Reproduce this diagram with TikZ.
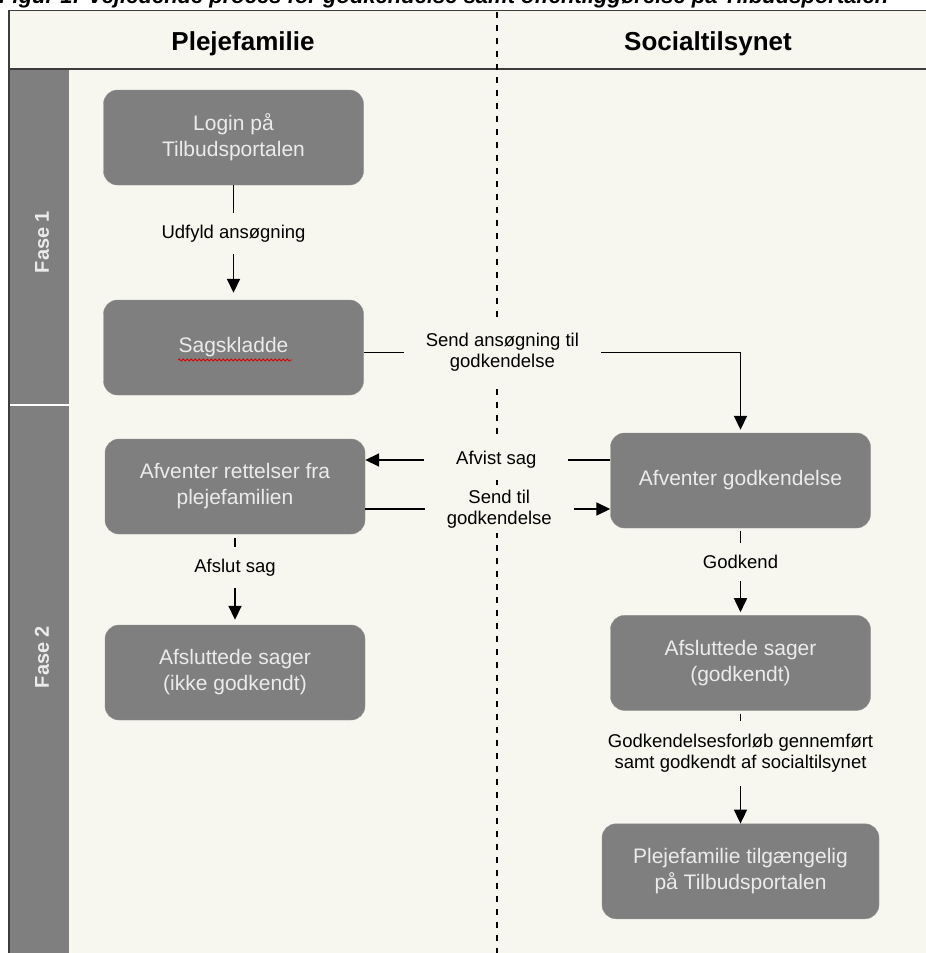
\documentclass[tikz,border=0pt]{standalone}
\usepackage{fontspec}
\setmainfont{Liberation Sans}
\usetikzlibrary{positioning,arrows.meta,decorations.pathmorphing}
\definecolor{paper}{HTML}{F7F7F0}
\definecolor{boxgray}{HTML}{7F7F7F}
\definecolor{boxtext}{HTML}{EBEBEB}
\definecolor{rim}{HTML}{3C3C3C}

\begin{document}
\begin{tikzpicture}[x=1pt,y=-1pt,
            box/.style={rectangle,rounded corners=14pt,fill=boxgray,draw=boxgray!85!white,text=boxtext,align=center,minimum width=260pt,minimum height=95pt,font=\fontsize{21}{26}\selectfont},
            lbl/.style={fill=paper,align=center,font=\fontsize{18.5}{21}\selectfont,inner xsep=22pt,inner ysep=12pt},
            arr/.style={draw=black,line width=1.7pt,-{Triangle[width=13pt,length=14pt]}},
            head/.style={font=\fontsize{26}{30}\selectfont\bfseries},
            fase/.style={rotate=90,text=boxtext,font=\fontsize{20}{24}\selectfont\bfseries}]

            \useasboundingbox (0,0) rectangle (926,953);
            \clip (0,0) rectangle (926,953);
            \fill[white] (0,0) rectangle (926,953);
            \node[anchor=base west,inner sep=0pt,font=\fontsize{22}{26}\selectfont\bfseries\itshape] (caption) at (-1,4) {Figur 1: Vejledende proces for godkendelse samt offentliggørelse på Tilbudsportalen};

            \fill[paper] (9,11) rectangle (926,953);
            \fill[boxgray] (10,69) rectangle (69,953);
            \draw[white,line width=1.2pt] (10,405) -- (69,405);
            \draw[rim,line width=1.6pt] (9,953) -- (9,10.5) -- (926,10.5);
            \draw[rim,line width=1.3pt] (9,69) -- (926,69);
            \draw[black,line width=1.4pt,dash pattern=on 6pt off 7pt] (497,12) -- (497,953);

            \node[head] (pleje) at (243,44) {Plejefamilie};
            \node[head] (social) at (708,44) {Socialtilsynet};
            \node[fase] (fase1) at (42,242) {Fase 1};
            \node[fase] (fase2) at (42,657) {Fase 2};

            \node[box] (login) at (233.5,137.5) {Login på\\Tilbudsportalen};
            \node[box] (kladde) at (233.5,347.5) {Sagskladde};
            \node[box] (rettelser) at (235,486.5) {Afventer rettelser fra\\plejefamilien};
            \node[box] (afvist) at (235,672.5) {Afsluttede sager\\(ikke godkendt)};
            \node[box] (afventer) at (740.5,480.5) {Afventer godkendelse};
            \node[box,below=87pt of afventer] (godkendt) {Afsluttede sager\\(godkendt)};
            \node[box,minimum width=277pt,below=113pt of godkendt] (tilg) {Plejefamilie tilgængelig\\på Tilbudsportalen};
            \draw[red!85!black,line width=0.8pt,decorate,decoration={snake,amplitude=1pt,segment length=4pt}] (178,360) -- (292,360);

            \draw[arr,shorten >=7pt] (login) -- node[lbl,pos=0.42] {Udfyld ansøgning} (kladde);
            \draw[arr,shorten <=4pt,shorten >=5pt] (rettelser) -- node[lbl,pos=0.37] {Afslut sag} (afvist);
            \draw[arr,shorten <=3pt,shorten >=3pt] (afventer) -- node[lbl,pos=0.39] {Godkend} (godkendt);
            \draw[arr,shorten <=3pt] (godkendt) -- node[lbl,pos=0.38,inner ysep=13pt] {Godkendelsesforløb gennemført\\samt godkendt af socialtilsynet} (tilg);
            \draw[arr,shorten >=3pt] ([yshift=-5pt]kladde.east) -| node[lbl,pos=0.184,inner ysep=11pt] {Send ansøgning til\\godkendelse} (afventer);
            \draw[arr] (afventer.west |- 0,460) -- node[lbl,pos=0.465,inner xsep=32pt,inner ysep=10pt] {Afvist sag} (rettelser.east |- 0,460);
            \draw[arr] (rettelser.east |- 0,509) -- node[lbl,pos=0.547,inner xsep=22pt,inner ysep=5pt] {Send til\\godkendelse} (afventer.west |- 0,509);
         \end{tikzpicture}
\end{document}
